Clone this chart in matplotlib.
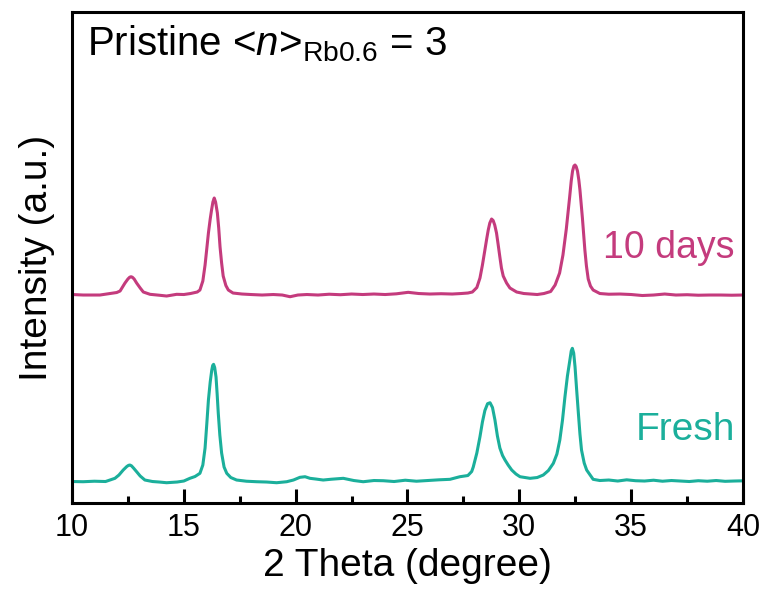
import matplotlib
matplotlib.use("Agg")
import matplotlib.pyplot as plt
from matplotlib.ticker import MultipleLocator

plt.rcParams['font.family'] = ['Liberation Sans', 'DejaVu Sans']
plt.rcParams['mathtext.fontset'] = 'custom'
plt.rcParams['mathtext.rm'] = 'Liberation Sans'
plt.rcParams['mathtext.it'] = 'Liberation Sans:italic'

# 10 days pattern (2theta, intensity incl. offset)
days10_x = [10.0, 10.5, 11.0, 11.25, 11.7, 12.0, 12.15, 12.37, 12.5, 12.58, 12.64, 12.7, 12.78, 12.89, 13.05,
            13.19, 13.49, 13.9, 14.23, 14.68, 15.0, 15.3, 15.6, 15.72, 15.85, 15.95, 16.03, 16.1, 16.18, 16.24,
            16.3, 16.36, 16.42, 16.5, 16.56, 16.62, 16.69, 16.76, 16.88, 16.99, 17.2, 17.6, 18.0, 18.5, 19.0,
            19.4, 19.75, 20.1, 20.5, 21.0, 21.5, 22.0, 22.5, 23.0, 23.5, 24.0, 24.5, 25.03, 25.5, 26.0, 26.5,
            27.0, 27.4, 27.7, 27.9, 28.1, 28.24, 28.35, 28.46, 28.54, 28.61, 28.68, 28.76, 28.83, 28.9, 28.98,
            29.05, 29.13, 29.2, 29.28, 29.43, 29.58, 29.88, 30.2, 30.5, 30.8, 31.1, 31.4, 31.6, 31.8, 31.95,
            32.1, 32.25, 32.32, 32.38, 32.44, 32.49, 32.54, 32.6, 32.66, 32.71, 32.82, 32.93, 33.0, 33.08,
            33.18, 33.3, 33.6, 34.0, 34.5, 35.0, 35.5, 36.0, 36.5, 37.0, 37.5, 38.0, 38.5, 39.0, 39.5, 40.0]
days10_y = [208.5, 208, 208, 208, 209.5, 210.5, 212, 220, 224, 225.8, 226.3, 225.8, 224, 220, 215,
            211, 208.7, 207.8, 207, 208.7, 208.5, 209.5, 211, 213, 222, 238, 255, 270, 284, 293,
            301, 305, 301, 290, 275, 256, 240, 227, 217.5, 213, 210, 209, 208.5, 208, 208.5,
            208, 206.3, 208, 208.5, 208, 208.8, 208.3, 209, 208.5, 209, 208.5, 209.2, 210.7, 209.5, 209, 209.3,
            209, 209.5, 210, 211, 215.5, 225, 238, 253, 264, 273, 280, 284, 282.5, 278, 270,
            259, 246, 235, 227, 220, 215, 211, 209.5, 209, 208.5, 209.5, 211.5, 218, 230, 248,
            274, 306, 322, 332, 337, 338, 336.5, 332, 323, 313, 285, 253, 237, 224,
            217, 213, 209.5, 208.8, 209, 208.5, 207.5, 208, 209, 208, 208.3, 207.8, 208, 208, 207.8, 208]

# Fresh pattern (2theta, intensity incl. offset)
fresh_x = [10.0, 10.5, 11.0, 11.5, 11.92, 12.1, 12.29, 12.45, 12.53, 12.59, 12.66, 12.75, 12.89, 13.05, 13.26,
           13.6, 13.9, 14.23, 14.7, 15.0, 15.27, 15.5, 15.72, 15.85, 15.95, 16.03, 16.1, 16.18, 16.25, 16.29,
           16.33, 16.38, 16.44, 16.49, 16.54, 16.61, 16.69, 16.8, 16.92, 17.1, 17.36, 17.8, 18.26, 18.7,
           19.15, 19.6, 19.9, 20.19, 20.42, 20.64, 20.9, 21.23, 21.6, 22.13, 22.6, 23.02, 23.5, 23.92, 24.4,
           24.9, 25.4, 25.9, 26.4, 26.9, 27.34, 27.7, 27.87, 27.94, 28.1, 28.24, 28.35, 28.46, 28.58, 28.69,
           28.8, 28.91, 29.02, 29.13, 29.25, 29.36, 29.5, 29.66, 29.85, 30.03, 30.48, 30.8, 31.07, 31.3,
           31.52, 31.68, 31.81, 31.93, 32.04, 32.15, 32.26, 32.32, 32.37, 32.43, 32.49, 32.56, 32.64, 32.71,
           32.78, 32.9, 33.01, 33.3, 33.6, 34.0, 34.4, 34.8, 35.2, 35.6, 36.0, 36.4, 36.8, 37.2, 37.6,
           38.0, 38.4, 38.8, 39.2, 39.6, 40.0]
fresh_y = [21.5, 21.3, 21.8, 21.5, 24.7, 28.0, 33.0, 36.5, 37.7, 38.0, 37.2, 35.0, 31.3, 27.0, 23.0,
           21.5, 21.0, 20.3, 21.0, 22.0, 24.7, 26.5, 29.7, 38.0, 55.0, 80.0, 103.0, 121.0, 133.0, 137.5,
           138.7, 135.5, 126.0, 109.0, 90.0, 68.0, 50.0, 36.0, 29.7, 25.5, 23.0, 21.8, 21.3, 21.0,
           20.3, 21.3, 23.0, 25.7, 26.3, 24.7, 24.0, 23.0, 23.8, 24.7, 22.5, 21.3, 22.5, 22.3, 21.5,
           22.8, 21.8, 22.5, 23.2, 23.7, 26.3, 27.5, 31.5, 36.0, 50.0, 66.3, 81.0, 92.5, 99.3, 100.3,
           95.5, 83.0, 67.0, 55.0, 47.5, 43.0, 38.0, 33.0, 29.0, 26.3, 24.7, 25.5, 28.0, 32.5,
           39.7, 49.0, 63.0, 83.0, 106.3, 127.0, 143.0, 152.0, 154.7, 150.0, 136.3, 114.0, 89.7, 69.0,
           53.0, 40.0, 33.0, 23.7, 22.5, 23.0, 22.0, 23.2, 22.3, 22.0, 22.8, 21.8, 22.5, 22.0, 21.5,
           22.3, 21.8, 22.5, 21.7, 22.0, 22.2]

xticks = [10, 15, 20, 25, 30, 35, 40]
magenta = '#C43B7D'
teal = '#1BAF9B'

fig = plt.figure(figsize=(7.69, 5.92), dpi=100)
ax = fig.add_axes([0.0936, 0.1503, 0.8726, 0.8294])

ax.plot(days10_x, days10_y, color=magenta, lw=2.2, solid_joinstyle='round')
ax.plot(fresh_x, fresh_y, color=teal, lw=2.2, solid_joinstyle='round')

ax.set_xlim(10, 40)
ax.set_ylim(0, 491)
ax.set_xticks(xticks)
ax.set_xticklabels([str(t) for t in xticks])
ax.xaxis.set_minor_locator(MultipleLocator(2.5))
ax.set_yticks([])
ax.tick_params(axis='x', which='major', direction='in', length=10, width=2.2,
               labelsize=22, pad=7, top=False)
ax.tick_params(axis='x', which='minor', direction='in', length=5, width=2.2, top=False)
for s in ax.spines.values():
    s.set_linewidth(2.2)

ax.set_xlabel('2 Theta (degree)', fontsize=28, labelpad=4)
ax.set_ylabel('Intensity (a.u.)', fontsize=28, labelpad=12)

ax.text(39.64, 255, '10 days', color=magenta, fontsize=27, ha='right', va='center')
ax.text(39.64, 73, 'Fresh', color=teal, fontsize=28, ha='right', va='center')
ax.text(10.68, 448, r'Pristine <$\mathit{n}$>$_{\mathrm{Rb0.6}}$ = 3', fontsize=29,
        ha='left', va='baseline')

fig.savefig('out.png', dpi=100)
